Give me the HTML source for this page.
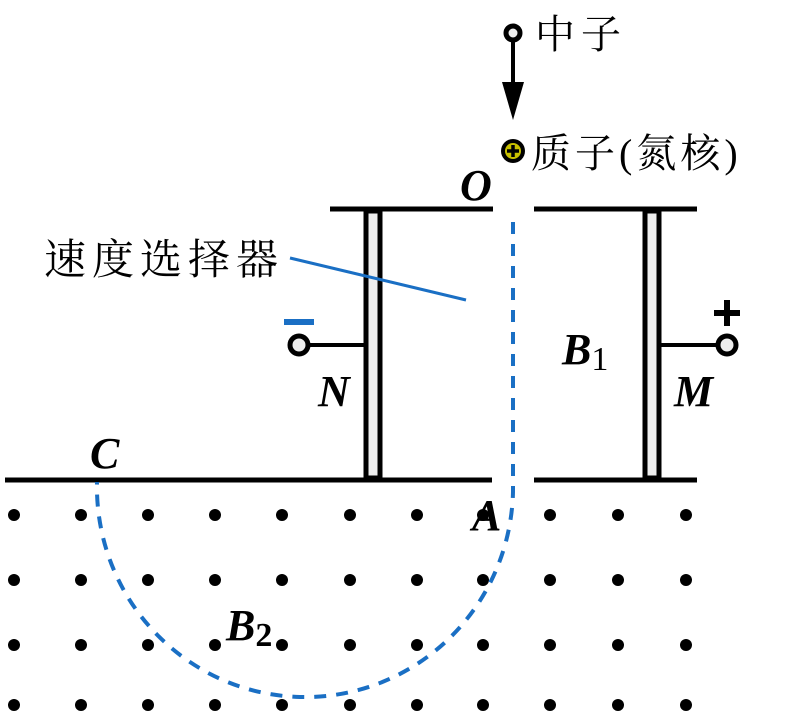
<!DOCTYPE html>
<html><head><meta charset="utf-8"><style>
body{margin:0;background:#fff}
svg{display:block}
.t{font-family:"Liberation Serif","Noto Serif CJK SC",serif;}
.i{font-family:"Liberation Serif",serif;font-style:italic;font-weight:bold;}
</style></head><body>
<svg width="800" height="714" viewBox="0 0 800 714" xmlns="http://www.w3.org/2000/svg">
<g fill="#000">
<g id="row">
<circle cx="14" cy="515" r="6"/><circle cx="81" cy="515" r="6"/><circle cx="148" cy="515" r="6"/><circle cx="215" cy="515" r="6"/><circle cx="282" cy="515" r="6"/><circle cx="350" cy="515" r="6"/><circle cx="417" cy="515" r="6"/><circle cx="483" cy="515" r="6"/><circle cx="550" cy="515" r="6"/><circle cx="618" cy="515" r="6"/><circle cx="686" cy="515" r="6"/>
</g>
<use href="#row" y="65"/><use href="#row" y="130"/><use href="#row" y="190"/>
</g>
<g stroke="#000" stroke-width="5" fill="none">
<line x1="330" y1="209" x2="493" y2="209"/>
<line x1="534" y1="209" x2="697" y2="209"/>
<line x1="5" y1="480" x2="492" y2="480"/>
<line x1="534" y1="480" x2="697" y2="480"/>
<rect x="366" y="211" width="14" height="267" fill="#eee"/>
<rect x="645" y="211" width="14" height="267" fill="#eee"/>
<line x1="306" y1="345" x2="366" y2="345" stroke-width="4"/>
<line x1="659" y1="345" x2="720" y2="345" stroke-width="4"/>
<line x1="513" y1="40" x2="513" y2="90" stroke-width="4"/>
</g>
<circle cx="299" cy="345" r="9" fill="#eee" stroke="#000" stroke-width="5"/>
<circle cx="727" cy="345" r="9" fill="#eee" stroke="#000" stroke-width="5"/>
<circle cx="513" cy="33" r="7" fill="#eee" stroke="#000" stroke-width="5"/>
<polygon points="502,82 524,82 513,120" fill="#000"/>
<circle cx="513" cy="151" r="12" fill="#000"/>
<circle cx="513" cy="151" r="8" fill="#c8c000"/>
<path d="M507 151h12M513 145v12" stroke="#000" stroke-width="3.5"/>
<rect x="284" y="319" width="30" height="6" fill="#1a6fc4"/>
<path d="M714 313h26M727 300v26" stroke="#000" stroke-width="6"/>
<path d="M513 222 V492 A208 210 0 0 1 97 482" stroke="#1a6fc4" stroke-width="4" fill="none" stroke-dasharray="12 10"/>
<line x1="290" y1="258" x2="466" y2="300" stroke="#1a6fc4" stroke-width="3"/>
<text class="t" x="535" y="48" font-size="40" letter-spacing="6">中子</text>
<text class="t" x="531" y="167" font-size="40" letter-spacing="4">质子(氮核)</text>
<text class="t" x="44" y="274" font-size="42" letter-spacing="6">速度选择器</text>
<text class="i" x="460" y="200" font-size="44">O</text>
<text class="i" x="562" y="364" font-size="44">B<tspan font-style="normal" font-weight="normal" font-size="34" dy="6">1</tspan></text>
<text class="i" x="318" y="406" font-size="44">N</text>
<text class="i" x="674" y="406" font-size="44">M</text>
<text class="i" x="90" y="468" font-size="44">C</text>
<text class="i" x="472" y="530" font-size="44">A</text>
<text class="i" x="226" y="640" font-size="44">B<tspan font-style="normal" font-size="34" dy="6">2</tspan></text>
</svg>
</body></html>
